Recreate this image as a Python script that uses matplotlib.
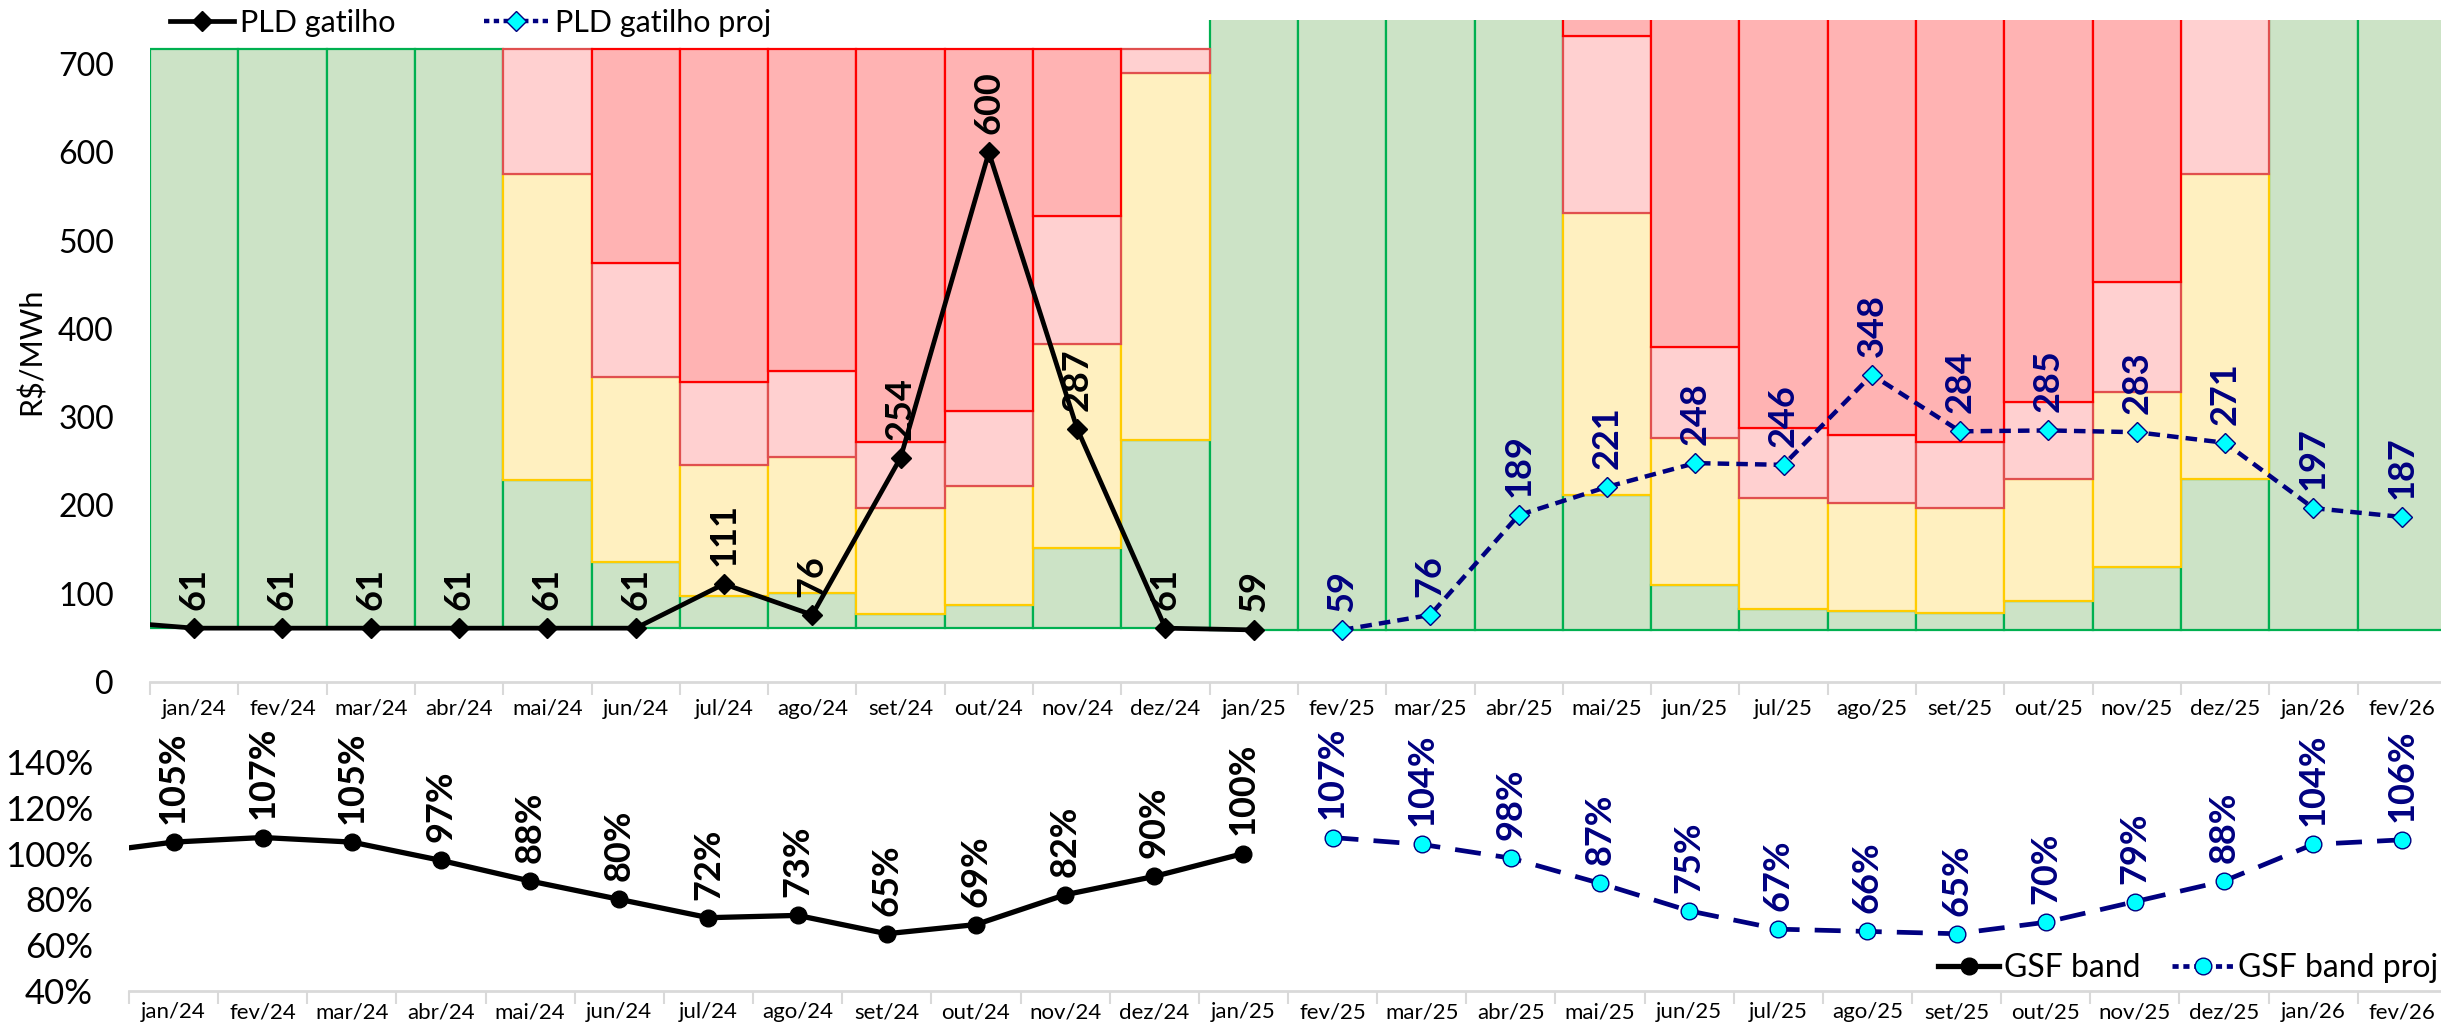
import matplotlib
matplotlib.use('Agg')
import matplotlib.pyplot as plt
import numpy as np
from matplotlib.lines import Line2D

# ---------------- data ----------------
months = ['jan/24', 'fev/24', 'mar/24', 'abr/24', 'mai/24', 'jun/24', 'jul/24', 'ago/24',
          'set/24', 'out/24', 'nov/24', 'dez/24', 'jan/25', 'fev/25', 'mar/25', 'abr/25',
          'mai/25', 'jun/25', 'jul/25', 'ago/25', 'set/25', 'out/25', 'nov/25', 'dez/25',
          'jan/26', 'fev/26']

# PLD band boundaries (R$/MWh)
band_floor = [61.07] * 12 + [58.60] * 14
green_top = [716.8, 716.8, 716.8, 716.8, 229, 136, 97.7, 101, 77.5, 87.8, 152, 274,
             751.73, 751.73, 751.73, 751.73, 211.7, 109.5, 83, 80.8, 78.4, 91.6, 130, 229.5,
             751.73, 751.73]
yellow_top = [716.8, 716.8, 716.8, 716.8, 575, 345, 245.6, 255, 196.6, 222, 383, 689.5,
              751.73, 751.73, 751.73, 751.73, 531, 276, 209, 203, 197.5, 230.5, 328, 575,
              751.73, 751.73]
pink_top = [716.8, 716.8, 716.8, 716.8, 716.8, 475, 339.7, 352, 271.5, 306.8, 528.5, 716.8,
            751.73, 751.73, 751.73, 751.73, 732, 380, 288, 280, 271.4, 317.6, 453, 751.73,
            751.73, 751.73]
band_ceiling = [716.8] * 12 + [751.73] * 14

# PLD gatilho (historic series starts at dez/23, just left of the axis)
pld_hist = [69, 61, 61, 61, 61, 61, 61, 111, 76, 254, 600, 287, 61, 59]
pld_proj = [59, 76, 189, 221, 248, 246, 348, 284, 285, 283, 271, 197, 187]

# GSF band (historic series starts at dez/23, just left of the axis)
gsf_hist = [1.00, 1.05, 1.07, 1.05, 0.97, 0.88, 0.80, 0.72, 0.73, 0.65, 0.69, 0.82, 0.90, 1.00]
gsf_proj = [1.07, 1.04, 0.98, 0.87, 0.75, 0.67, 0.66, 0.65, 0.70, 0.79, 0.88, 1.04, 1.06]

# ---------------- style ----------------
plt.rcParams['font.family'] = ['Lato', 'DejaVu Sans']
NAVY = '#000080'
CYAN = '#00FFFF'
GRAY = '#D9D9D9'

W, H = 2441, 1031
fig = plt.figure(figsize=(W / 100, H / 100), dpi=100)

n = len(months)
x = np.arange(n)
x_hist = np.arange(-1, 13)
x_proj = np.arange(13, 26)

# ---------------- top chart ----------------
ax = fig.add_axes([150 / W, 1 - 682 / H, 26 * 88.3 / W, (682 - 20) / H])
layers = [(band_floor, green_top, '#CCE3C6', '#00B050'),
          (green_top, yellow_top, '#FFF0C0', '#FFCC00'),
          (yellow_top, pink_top, '#FFD0D0', '#E0504F'),
          (pink_top, band_ceiling, '#FFB3B3', '#FF0000')]
for lo, hi, fc, ec in layers:
    lo = np.asarray(lo, float)
    hi = np.asarray(hi, float)
    h = hi - lo
    m = h > 0.01
    ax.bar(x[m], h[m], bottom=lo[m], width=1.0, color=fc, edgecolor=ec,
           linewidth=1.6, zorder=1)

ax.plot(x_hist, pld_hist, color='black', lw=3.4, marker='D', ms=10,
        mfc='black', mec='black', zorder=3, clip_on=True)
ax.plot(x_proj, pld_proj, color=NAVY, lw=3.2, ls=(0, (2.6, 1.6)), marker='D', ms=10,
        mfc=CYAN, mec=NAVY, mew=1.0, zorder=3)

for xi, v in zip(x_hist[1:], pld_hist[1:]):
    ax.annotate(f'{v:d}', (xi, v), xytext=(0, 13), textcoords='offset points',
                rotation=90, ha='center', va='bottom', fontsize=26, fontweight='bold',
                color='black', zorder=4)
for xi, v in zip(x_proj, pld_proj):
    ax.annotate(f'{v:d}', (xi, v), xytext=(0, 13), textcoords='offset points',
                rotation=90, ha='center', va='bottom', fontsize=26, fontweight='bold',
                color=NAVY, zorder=4)

ax.set_xlim(-0.5, n - 0.5)
ax.set_ylim(0, 750)
ax.set_yticks(np.arange(0, 701, 100))
ax.tick_params(axis='y', length=0, pad=26, labelsize=23)
ax.set_xticks(x)
ax.set_xticklabels(months)
ax.set_xticks(np.arange(-0.5, n, 1.0), minor=True)
ax.tick_params(axis='x', which='major', length=0, pad=12, labelsize=16)
ax.tick_params(axis='x', which='minor', length=9, width=1.5, color=GRAY)
for s in ['top', 'left', 'right']:
    ax.spines[s].set_visible(False)
ax.spines['bottom'].set_color(GRAY)
ax.spines['bottom'].set_linewidth(2)
ax.set_ylabel('R$/MWh', fontsize=22)
ax.yaxis.set_label_coords((46 - 150) / (26 * 88.3), 0.5)

leg_handles = [Line2D([], [], color='black', lw=3.4, marker='D', ms=10, mfc='black', mec='black'),
               Line2D([], [], color=NAVY, lw=3.2, ls=(0, (1.2, 1.0)), marker='D', ms=10,
                      mfc=CYAN, mec=NAVY)]
fig.legend(leg_handles, ['PLD gatilho', 'PLD gatilho proj'], loc='center left',
           bbox_to_anchor=(170 / W, 1 - 23 / H), ncol=2, frameon=False, fontsize=22,
           handlelength=2.1, handletextpad=0.2, columnspacing=2.9, borderpad=0, borderaxespad=0)

# ---------------- bottom chart ----------------
ax2 = fig.add_axes([129 / W, 1 - 991 / H, 26 * 89.15 / W, (991 - 739) / H])
ax2.plot(x_hist, gsf_hist, color='black', lw=3.8, marker='o', ms=12,
         mfc='black', mec='black', zorder=3)
ax2.plot(x_proj, gsf_proj, color=NAVY, lw=3.4, ls=(0, (5.5, 3.2)), marker='o', ms=12,
         mfc=CYAN, mec=NAVY, mew=1.0, zorder=3)
for xi, v in zip(x_hist[1:], gsf_hist[1:]):
    ax2.annotate(f'{round(v * 100):d}%', (xi, v), xytext=(0, 13), textcoords='offset points',
                 rotation=90, ha='center', va='bottom', fontsize=26, fontweight='bold',
                 color='black', zorder=4)
for xi, v in zip(x_proj, gsf_proj):
    ax2.annotate(f'{round(v * 100):d}%', (xi, v), xytext=(0, 13), textcoords='offset points',
                 rotation=90, ha='center', va='bottom', fontsize=26, fontweight='bold',
                 color=NAVY, zorder=4)

ax2.set_xlim(-0.5, n - 0.5)
ax2.set_ylim(0.40, 1.50)
ax2.set_yticks(np.arange(0.4, 1.41, 0.2))
ax2.set_yticklabels([f'{round(t * 100):d}%' for t in np.arange(0.4, 1.41, 0.2)])
ax2.tick_params(axis='y', length=0, pad=26, labelsize=25)
ax2.set_xticks(x)
ax2.set_xticklabels(months)
ax2.set_xticks(np.arange(-0.5, n, 1.0), minor=True)
ax2.tick_params(axis='x', which='major', length=0, pad=8, labelsize=16)
ax2.tick_params(axis='x', which='minor', length=9, width=1.5, color=GRAY)
for s in ['top', 'left', 'right']:
    ax2.spines[s].set_visible(False)
ax2.spines['bottom'].set_color(GRAY)
ax2.spines['bottom'].set_linewidth(2)

leg2_handles = [Line2D([], [], color='black', lw=3.8, marker='o', ms=12, mfc='black', mec='black'),
                Line2D([], [], color=NAVY, lw=3.4, ls=(0, (1.3, 1.0)), marker='o', ms=12,
                       mfc=CYAN, mec=NAVY)]
fig.legend(leg2_handles, ['GSF band', 'GSF band proj'], loc='center right',
           bbox_to_anchor=(2438 / W, 1 - 968 / H), ncol=2, frameon=False, fontsize=23,
           handlelength=1.9, handletextpad=0.15, columnspacing=1.0, borderpad=0, borderaxespad=0)

fig.savefig('out.png', dpi=100)
